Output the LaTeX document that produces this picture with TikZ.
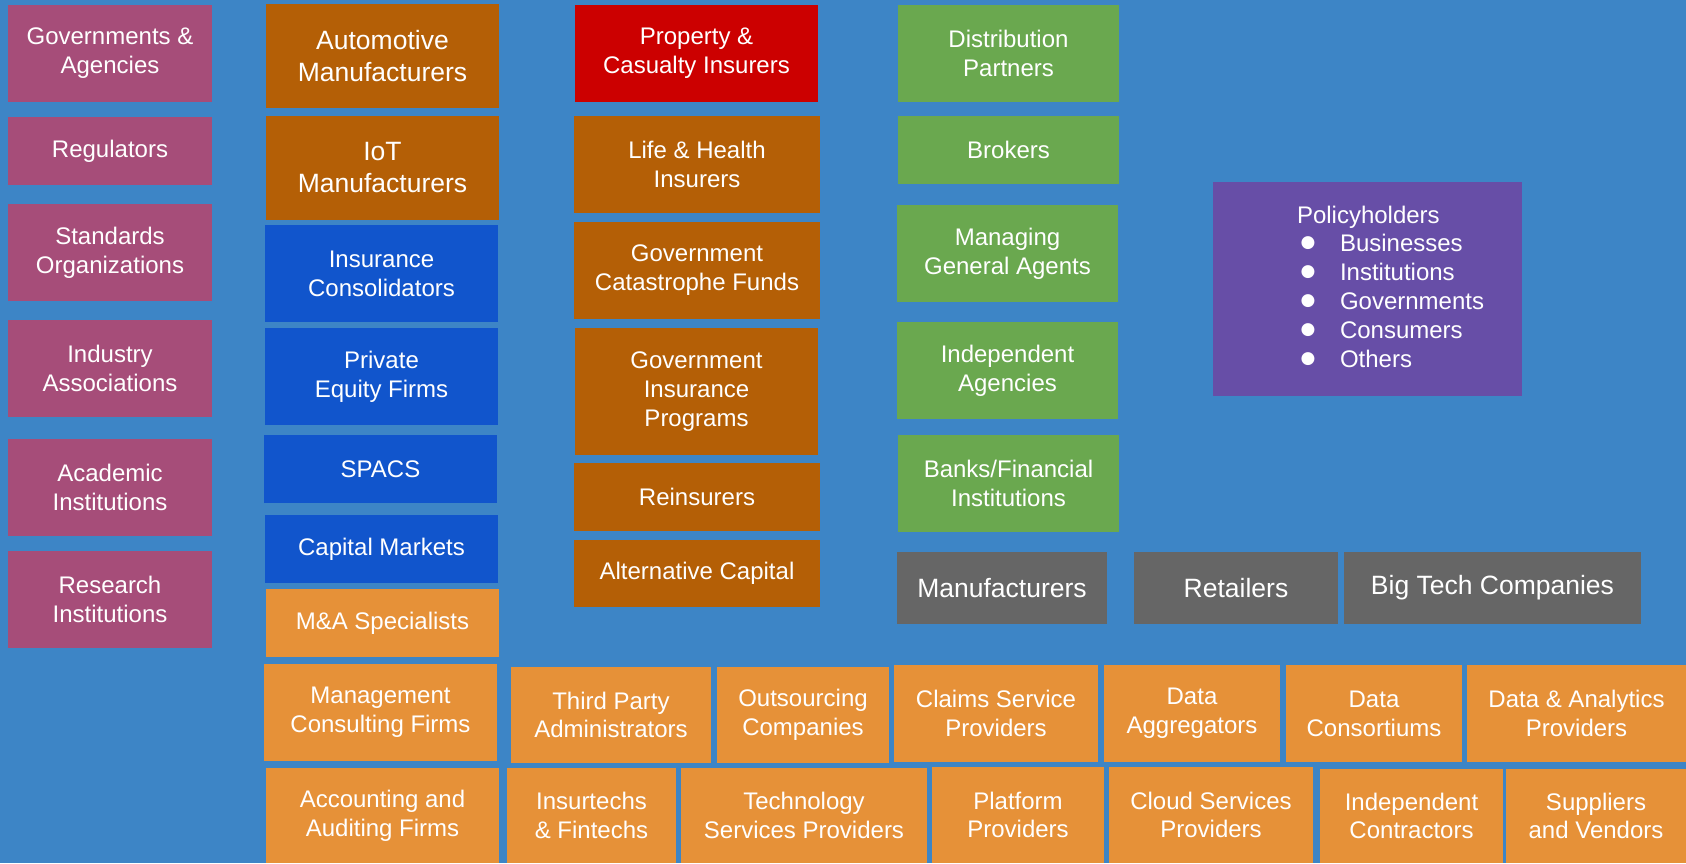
\documentclass[tikz,border=0pt]{standalone}
\usepackage{fontspec}
\setmainfont{Liberation Sans}
\newfontfamily\symf{DejaVu Sans}
\definecolor{bgblue}{HTML}{3D85C6}
\definecolor{mauve}{HTML}{A64D79}
\definecolor{brown}{HTML}{B45F06}
\definecolor{dblue}{HTML}{1155CC}
\definecolor{dred}{HTML}{CC0000}
\definecolor{dgreen}{HTML}{6AA84F}
\definecolor{dpurple}{HTML}{674EA7}
\definecolor{dgray}{HTML}{666666}
\definecolor{lorange}{HTML}{E69138}
\tikzset{
  cellbox/.style={inner sep=0pt, outer sep=0pt, align=center, text=white,
    font=\fontsize{24}{28.8}\selectfont},
  bigtext/.style={font=\fontsize{26.5}{32}\selectfont},
}
% \mkcell[opts]{name}{x1}{y1}{x2}{y2}{colour}{text}
\newcommand\mkcell[8][]{\node[cellbox,fill=#7,minimum width={(#5)-(#3)},minimum height={(#6)-(#4)},#1] (#2) at ({((#3)+(#5))/2},{((#4)+(#6))/2}) {#8};}
\newcommand\blt{\makebox[43pt][l]{\hspace{11pt}\makebox[0pt]{\raisebox{2pt}{$\vcenter{\hbox{\symf\fontsize{17}{20}\selectfont ●}}$}}}}
\begin{document}
\begin{tikzpicture}[x=1pt,y=-1pt]
\fill[bgblue] (0,0) rectangle (1686,863);
\useasboundingbox (0,0) rectangle (1686,863);
% column 1
\mkcell{gov}{8}{5}{212}{102}{mauve}{Governments \&\\Agencies}
\mkcell{reg}{8}{117}{212}{185}{mauve}{Regulators}
\mkcell{std}{8}{204}{212}{301}{mauve}{Standards\\Organizations}
\mkcell{ind}{8}{320}{212}{417}{mauve}{Industry\\Associations}
\mkcell{acad}{8}{439}{212}{536}{mauve}{Academic\\Institutions}
\mkcell{res}{8}{551}{212}{648}{mauve}{Research\\Institutions}
% column 2
\mkcell[bigtext]{auto}{266}{4}{499}{108}{brown}{Automotive\\Manufacturers}
\mkcell[bigtext]{iot}{266}{116}{499}{220}{brown}{IoT\\Manufacturers}
\mkcell{cons}{265}{225}{498}{322}{dblue}{Insurance\\Consolidators}
\mkcell{pe}{265}{328}{498}{425}{dblue}{Private\\Equity Firms}
\mkcell{spacs}{264}{435}{497}{503}{dblue}{SPACS}
\mkcell{cap}{265}{515}{498}{583}{dblue}{Capital Markets}
\mkcell{ma}{266}{589}{499}{657}{lorange}{M\&A Specialists}
\mkcell{mc}{264}{664}{497}{761}{lorange}{Management\\Consulting Firms}
\mkcell{acc}{266}{768}{499}{863}{lorange}{Accounting and\\Auditing Firms}
% column 3
\mkcell{pc}{575}{5}{818}{102}{dred}{Property \&\\Casualty Insurers}
\mkcell{lh}{574}{116}{820}{213}{brown}{Life \& Health\\Insurers}
\mkcell{gcf}{574}{222}{820}{319}{brown}{Government\\Catastrophe Funds}
\mkcell{gip}{575}{328}{818}{455}{brown}{Government\\Insurance\\Programs}
\mkcell{rein}{574}{463}{820}{531}{brown}{Reinsurers}
\mkcell{alt}{574}{540}{820}{607}{brown}{Alternative Capital}
% column 4
\mkcell{dist}{898}{5}{1119}{102}{dgreen}{Distribution\\Partners}
\mkcell{brok}{898}{116}{1119}{184}{dgreen}{Brokers}
\mkcell{mga}{897}{205}{1118}{302}{dgreen}{Managing\\General Agents}
\mkcell{ia}{897}{322}{1118}{419}{dgreen}{Independent\\Agencies}
\mkcell{bank}{898}{435}{1119}{532}{dgreen}{Banks/Financial\\Institutions}
% grey row
\mkcell[bigtext]{mfr}{897}{552}{1107}{624}{dgray}{Manufacturers}
\mkcell[bigtext]{ret}{1134}{552}{1338}{624}{dgray}{Retailers}
\mkcell[bigtext]{big}{1344}{552}{1641}{624}{dgray}{Big Tech Companies}
% policyholders
\mkcell{ph}{1213}{182}{1522}{396}{dpurple}{}
\node[inner sep=0pt, outer sep=0pt, anchor=base west, align=left, text=white,
  font=\fontsize{24}{28.8}\selectfont] (phtext) at (1297,367)
  {Policyholders\\
   \blt Businesses\\
   \blt Institutions\\
   \blt Governments\\
   \blt Consumers\\
   \blt Others};
% bottom row 1
\mkcell{tpa}{511}{667}{711}{763}{lorange}{Third Party\\Administrators}
\mkcell{out}{717}{667}{889}{763}{lorange}{Outsourcing\\Companies}
\mkcell{clm}{894}{665}{1098}{762}{lorange}{Claims Service\\Providers}
\mkcell{dag}{1104}{665}{1280}{762}{lorange}{Data\\Aggregators}
\mkcell{dcon}{1286}{665}{1462}{762}{lorange}{Data\\Consortiums}
\mkcell{dan}{1467}{665}{1686}{762}{lorange}{Data \& Analytics\\Providers}
% bottom row 2
\mkcell{ins}{507}{768}{676}{863}{lorange}{Insurtechs\\\& Fintechs}
\mkcell{tech}{681}{768}{927}{863}{lorange}{Technology\\Services Providers}
\mkcell{plat}{932}{767}{1104}{863}{lorange}{Platform\\Providers}
\mkcell{cloud}{1109}{767}{1313}{863}{lorange}{Cloud Services\\Providers}
\mkcell{ic}{1320}{769}{1503}{863}{lorange}{Independent\\Contractors}
\mkcell{sup}{1506}{769}{1686}{863}{lorange}{Suppliers\\and Vendors}
\end{tikzpicture}
\end{document}
